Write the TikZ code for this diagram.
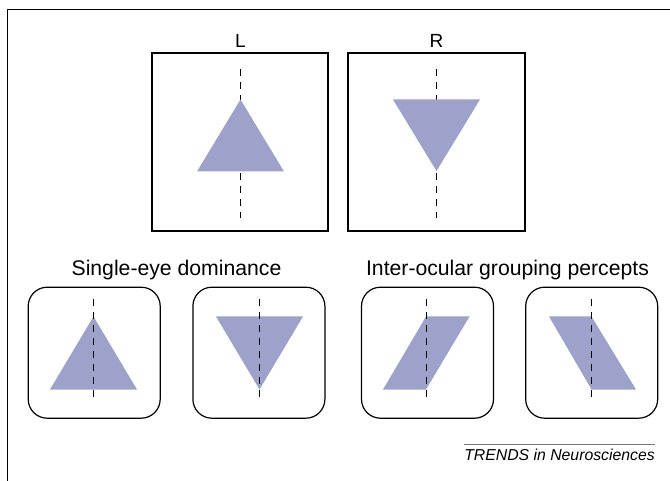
\documentclass[tikz,border=0pt]{standalone}
\usepackage{fontspec}
\setmainfont{Liberation Sans}
\definecolor{shapefill}{RGB}{158,162,203}
\definecolor{rulegray}{RGB}{120,120,120}
\tikzset{
  eyebox/.style={draw=black, line width=1.2pt, minimum width=176pt, minimum height=178pt, inner sep=0pt},
  perbox/.style={draw=black, line width=1.2pt, rounded corners=19pt, minimum width=132pt, minimum height=131pt, inner sep=0pt},
  midline/.style={draw=black, line width=0.9pt, dash pattern=on 7pt off 6pt},
  toplabel/.style={font=\fontsize{19}{22}\selectfont, anchor=base},
  grouplabel/.style={font=\fontsize{21.2}{24}\selectfont, anchor=base},
}
\begin{document}
\begin{tikzpicture}[x=1pt,y=-1pt]
\useasboundingbox (0,0) rectangle (670,481);
% frame
\draw[line width=1.2pt] (7.5,481) -- (7.5,9.5) -- (670,9.5);
% top labels
\node[toplabel] (lblL) at (240.5,48) {L};
\node[toplabel] (lblR) at (436.5,48) {R};
% top boxes
\node[eyebox] (boxL) at (240,142) {};
\node[eyebox, minimum width=177pt] (boxR) at (436.5,142) {};
% left eye
\draw[midline] (240.5,69) -- (240.5,218);
\fill[shapefill] (240.5,99.5) -- (284,171.5) -- (197,171.5) -- cycle;
% right eye
\draw[midline] (436.5,69) -- (436.5,218);
\fill[shapefill] (393,99.5) -- (480,99.5) -- (436.5,171) -- cycle;
% group labels
\node[grouplabel] (lblS) at (176.5,276) {Single-eye dominance};
\node[grouplabel] (lblI) at (507.5,276) {Inter-ocular grouping percepts};
% bottom boxes
\node[perbox] (b1) at (94.2,352.7) {};
\node[perbox] (b2) at (258.9,352.7) {};
\node[perbox] (b3) at (427.5,352.7) {};
\node[perbox] (b4) at (591.7,352.7) {};
% shapes
\fill[shapefill] (93.5,316.5) -- (137,389.5) -- (50,389.5) -- cycle;
\draw[midline] (93.5,299) -- (93.5,403);
\fill[shapefill] (216,316.5) -- (303,316.5) -- (259.5,389.5) -- cycle;
\draw[midline] (259.5,299) -- (259.5,403);
\fill[shapefill] (383,389.5) -- (426,389.5) -- (469.5,316.5) -- (426,316.5) -- cycle;
\draw[midline] (426,299) -- (426,403);
\fill[shapefill] (549,316.5) -- (591.5,316.5) -- (636,389.5) -- (591.5,389.5) -- cycle;
\draw[midline] (591.5,299) -- (591.5,403);
% journal credit
\draw[rulegray, line width=1pt] (464,444.5) -- (655,444.5);
\node[anchor=base east, inner sep=0pt, font=\fontsize{15.8}{18}\selectfont\itshape] (credit) at (655,460) {TRENDS in Neurosciences};
\end{tikzpicture}
\end{document}
